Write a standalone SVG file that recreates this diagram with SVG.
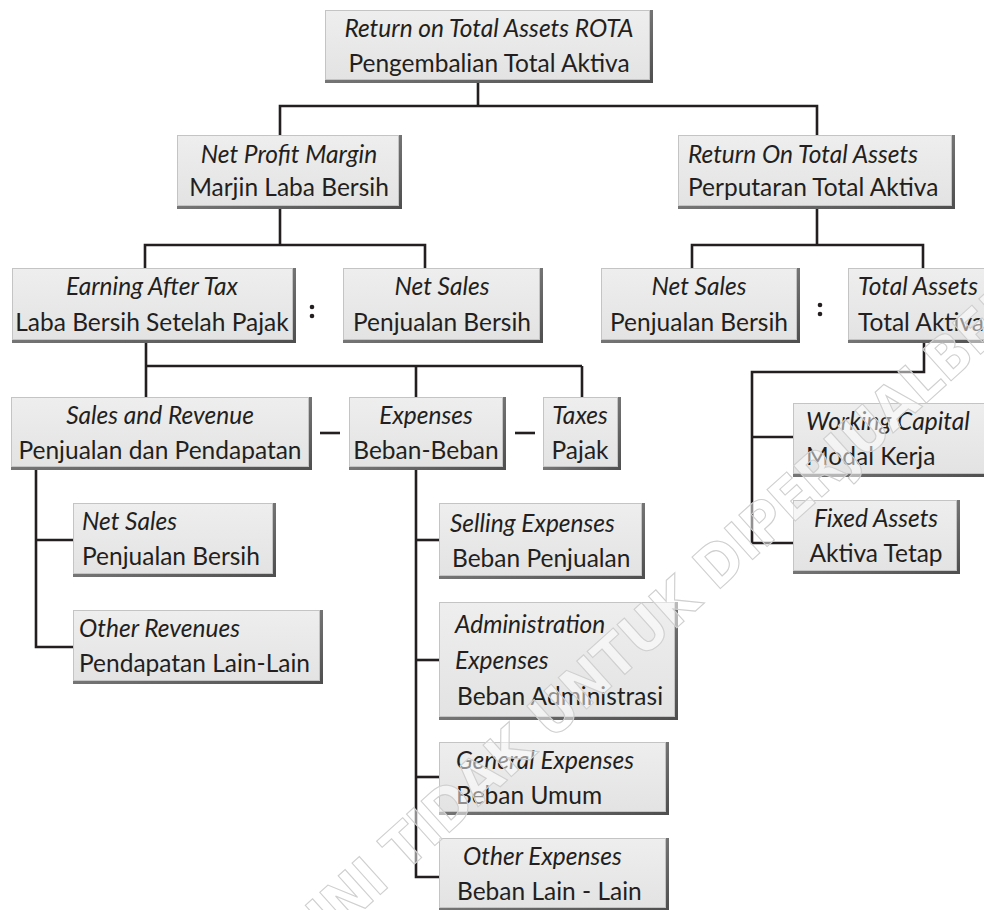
<svg xmlns="http://www.w3.org/2000/svg" width="984" height="910" viewBox="0 0 984 910">
  <defs>
    <linearGradient id="faceGrad" x1="0" y1="0" x2="0" y2="1">
      <stop offset="0" stop-color="#eeeeee"/>
      <stop offset="1" stop-color="#e3e3e3"/>
    </linearGradient>
    <linearGradient id="shadeGrad" x1="0" y1="0" x2="1" y2="1">
      <stop offset="0" stop-color="#9a9a9a"/>
      <stop offset="1" stop-color="#4e4e4e"/>
    </linearGradient>
  </defs>
  <style>
    .shade { fill: url(#shadeGrad); }
    .face { fill: url(#faceGrad); stroke: #c4c4c4; stroke-width: 1; }
    text { font-family: Lato, "Liberation Sans", sans-serif; font-size: 24.5px; fill: #231f20; }
    .en { font-style: italic; }
    .mid { text-anchor: middle; }
    .conn line, .conn polyline { stroke: #231f20; stroke-width: 2.6; fill: none; }
    .dot { fill: #231f20; }
    .wm { font-family: "DejaVu Sans", sans-serif; font-stretch: condensed; font-weight: bold; font-size: 58px; fill: #ffffff; fill-opacity: 0.5; stroke: #cfcfcf; stroke-width: 1.1; }
  </style>

  <rect width="984" height="910" fill="#ffffff"/>

  <!-- connectors -->
  <g id="connectors" class="conn">
    <line x1="478" y1="83" x2="478" y2="106"/>
    <polyline points="280,135 280,106 817,106 817,135"/>

    <line x1="280" y1="209" x2="280" y2="245"/>
    <polyline points="145,268 145,245 425,245 425,268"/>

    <line x1="817" y1="209" x2="817" y2="245"/>
    <polyline points="692,268 692,245 923,245 923,268"/>

    <line x1="146" y1="343" x2="146" y2="397"/>
    <line x1="146" y1="366" x2="582" y2="366"/>
    <line x1="416" y1="366" x2="416" y2="397"/>
    <line x1="582" y1="366" x2="582" y2="397"/>

    <line x1="320" y1="433" x2="340" y2="433"/>
    <line x1="515" y1="433" x2="535" y2="433"/>

    <polyline points="36,470 36,647 73,647"/>
    <line x1="36" y1="540" x2="73" y2="540"/>

    <polyline points="416,470 416,877 439,877"/>
    <line x1="416" y1="540" x2="439" y2="540"/>
    <line x1="416" y1="660" x2="439" y2="660"/>
    <line x1="416" y1="777" x2="439" y2="777"/>

    <polyline points="924,343 924,372 752,372 752,543 793,543"/>
    <line x1="752" y1="437" x2="793" y2="437"/>
  </g>

  <!-- ratio signs -->
  <g id="ratio-left">
    <circle class="dot" cx="312" cy="307" r="2.3"/>
    <circle class="dot" cx="312" cy="316" r="2.3"/>
  </g>
  <g id="ratio-right">
    <circle class="dot" cx="820" cy="305" r="2.3"/>
    <circle class="dot" cx="820" cy="314" r="2.3"/>
  </g>

  <!-- level 0 -->
  <g id="rota">
    <rect class="shade" x="325" y="10" width="328" height="73"/>
    <rect class="face" x="325.5" y="10.5" width="324" height="69"/>
    <text class="en mid" x="489" y="37">Return on Total Assets ROTA</text>
    <text class="mid" x="489" y="72">Pengembalian Total Aktiva</text>
  </g>

  <!-- level 1 -->
  <g id="net-profit-margin">
    <rect class="shade" x="177" y="135" width="225" height="74"/>
    <rect class="face" x="177.5" y="135.5" width="221" height="70"/>
    <text class="en mid" x="289" y="163">Net Profit Margin</text>
    <text class="mid" x="289" y="196">Marjin Laba Bersih</text>
  </g>
  <g id="return-on-total-assets">
    <rect class="shade" x="678" y="135" width="277" height="74"/>
    <rect class="face" x="678.5" y="135.5" width="273" height="70"/>
    <text class="en" x="688" y="163">Return On Total Assets</text>
    <text x="688" y="196">Perputaran Total Aktiva</text>
  </g>

  <!-- level 2 -->
  <g id="earning-after-tax">
    <rect class="shade" x="12" y="268" width="284" height="75"/>
    <rect class="face" x="12.5" y="268.5" width="280" height="71"/>
    <text class="en mid" x="152" y="295">Earning After Tax</text>
    <text class="mid" x="152" y="331">Laba Bersih Setelah Pajak</text>
  </g>
  <g id="net-sales-a">
    <rect class="shade" x="343" y="268" width="200" height="75"/>
    <rect class="face" x="343.5" y="268.5" width="196" height="71"/>
    <text class="en mid" x="442" y="295">Net Sales</text>
    <text class="mid" x="442" y="331">Penjualan Bersih</text>
  </g>
  <g id="net-sales-b">
    <rect class="shade" x="601" y="268" width="199" height="75"/>
    <rect class="face" x="601.5" y="268.5" width="195" height="71"/>
    <text class="en mid" x="699" y="295">Net Sales</text>
    <text class="mid" x="699" y="331">Penjualan Bersih</text>
  </g>
  <g id="total-assets">
    <rect class="shade" x="848" y="268" width="150" height="75"/>
    <rect class="face" x="848.5" y="268.5" width="146" height="71"/>
    <text class="en" x="858" y="295">Total Assets</text>
    <text x="858" y="331">Total Aktiva</text>
  </g>

  <!-- level 3 -->
  <g id="sales-and-revenue">
    <rect class="shade" x="11" y="397" width="301" height="73"/>
    <rect class="face" x="11.5" y="397.5" width="297" height="69"/>
    <text class="en mid" x="160" y="424">Sales and Revenue</text>
    <text class="mid" x="160" y="459">Penjualan dan Pendapatan</text>
  </g>
  <g id="expenses">
    <rect class="shade" x="349" y="397" width="157" height="73"/>
    <rect class="face" x="349.5" y="397.5" width="153" height="69"/>
    <text class="en mid" x="426" y="424">Expenses</text>
    <text class="mid" x="426" y="459">Beban-Beban</text>
  </g>
  <g id="taxes">
    <rect class="shade" x="543" y="397" width="78" height="73"/>
    <rect class="face" x="543.5" y="397.5" width="74" height="69"/>
    <text class="en mid" x="580" y="424">Taxes</text>
    <text class="mid" x="580" y="459">Pajak</text>
  </g>

  <!-- revenue details -->
  <g id="net-sales-c">
    <rect class="shade" x="73" y="503" width="203" height="74"/>
    <rect class="face" x="73.5" y="503.5" width="199" height="70"/>
    <text class="en" x="82" y="530">Net Sales</text>
    <text x="82" y="565">Penjualan Bersih</text>
  </g>
  <g id="other-revenues">
    <rect class="shade" x="73" y="610" width="250" height="74"/>
    <rect class="face" x="73.5" y="610.5" width="246" height="70"/>
    <text class="en" x="79" y="637">Other Revenues</text>
    <text x="79" y="672">Pendapatan Lain-Lain</text>
  </g>

  <!-- expense details -->
  <g id="selling-expenses">
    <rect class="shade" x="439" y="503" width="206" height="76"/>
    <rect class="face" x="439.5" y="503.5" width="202" height="72"/>
    <text class="en" x="450" y="532">Selling Expenses</text>
    <text x="452" y="567">Beban Penjualan</text>
  </g>
  <g id="administration-expenses">
    <rect class="shade" x="439" y="602" width="239" height="118"/>
    <rect class="face" x="439.5" y="602.5" width="235" height="114"/>
    <text class="en" x="455" y="633">Administration</text>
    <text class="en" x="455" y="669">Expenses</text>
    <text x="457" y="705">Beban Administrasi</text>
  </g>
  <g id="general-expenses">
    <rect class="shade" x="439" y="742" width="230" height="73"/>
    <rect class="face" x="439.5" y="742.5" width="226" height="69"/>
    <text class="en" x="456" y="769">General Expenses</text>
    <text x="456" y="804">Beban Umum</text>
  </g>
  <g id="other-expenses">
    <rect class="shade" x="439" y="838" width="230" height="73"/>
    <rect class="face" x="439.5" y="838.5" width="226" height="69"/>
    <text class="en" x="463" y="865">Other Expenses</text>
    <text x="457" y="900">Beban Lain - Lain</text>
  </g>

  <!-- asset details -->
  <g id="working-capital">
    <rect class="shade" x="793" y="403" width="200" height="74"/>
    <rect class="face" x="793.5" y="403.5" width="196" height="70"/>
    <text class="en" x="806" y="430">Working Capital</text>
    <text x="806" y="465">Modal Kerja</text>
  </g>
  <g id="fixed-assets">
    <rect class="shade" x="793" y="500" width="167" height="74"/>
    <rect class="face" x="793.5" y="500.5" width="163" height="70"/>
    <text class="en mid" x="876" y="527">Fixed Assets</text>
    <text class="mid" x="876" y="562">Aktiva Tetap</text>
  </g>

  <!-- diagonal watermark -->
  <text class="wm" transform="translate(330 940) rotate(-42)">INI TIDAK UNTUK DIPERJUALBELIKAN</text>
</svg>
